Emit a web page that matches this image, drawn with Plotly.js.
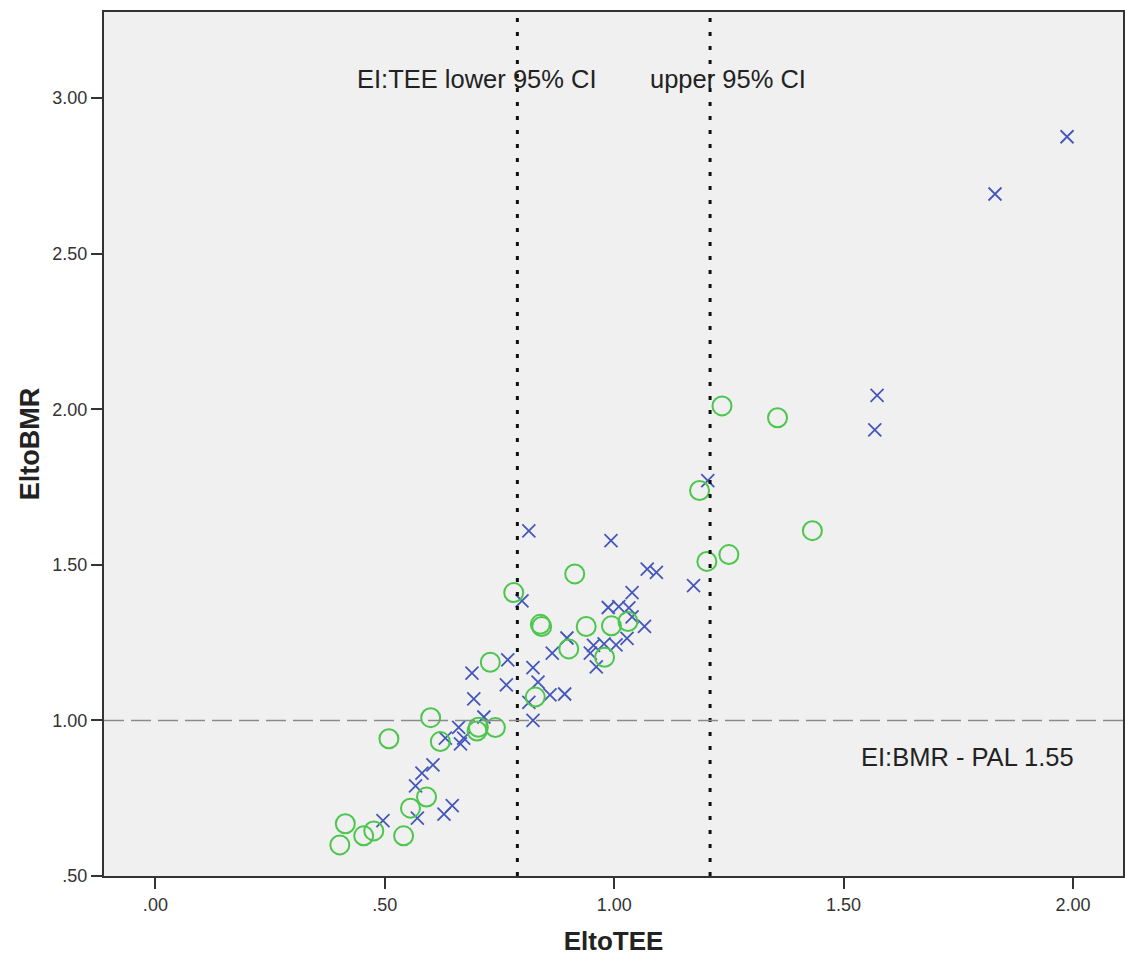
<!DOCTYPE html>
<html>
<head>
<meta charset="utf-8">
<script src="https://cdn.plot.ly/plotly-3.0.1.min.js"></script>
<style>html,body{margin:0;padding:0;background:#fff;}#chart{width:1125px;height:956px;}</style>
</head>
<body>
<div id="chart"></div>
<script>
// Series 1 (blue crosses)
const blueX = [1.987,1.830,1.573,1.568,1.204,0.814,0.993,1.072,1.092,1.173,1.039,0.799,0.987,1.010,1.032,1.039,1.066,0.897,0.955,0.978,1.004,1.028,0.948,0.961,0.865,0.823,0.768,0.690,0.765,0.834,0.860,0.892,0.814,0.694,0.716,0.823,0.661,0.672,0.665,0.632,0.605,0.581,0.567,0.571,0.647,0.629,0.496];
const blueY = [2.876,2.692,2.045,1.934,1.771,1.609,1.578,1.486,1.476,1.433,1.411,1.384,1.363,1.366,1.362,1.333,1.302,1.265,1.241,1.246,1.243,1.264,1.216,1.172,1.216,1.170,1.195,1.152,1.114,1.123,1.082,1.085,1.058,1.069,1.011,1.000,0.978,0.943,0.925,0.943,0.857,0.831,0.790,0.686,0.726,0.699,0.678];
// Series 2 (green circles)
const greenX = [1.235,1.356,1.186,1.432,1.250,1.202,0.914,0.781,0.839,0.842,0.939,0.994,1.030,0.901,0.979,0.730,0.828,0.600,0.704,0.701,0.741,0.509,0.621,0.591,0.556,0.414,0.476,0.454,0.541,0.402];
const greenY = [2.011,1.973,1.739,1.610,1.533,1.511,1.471,1.411,1.309,1.302,1.302,1.304,1.318,1.230,1.203,1.187,1.075,1.009,0.978,0.966,0.977,0.941,0.932,0.754,0.718,0.668,0.645,0.629,0.629,0.600];
// Reference lines
const ciLower = 0.789;
const ciUpper = 1.209;
const palRef = 1.0;
// Ticks
const xTickVals = [0, 0.5, 1.0, 1.5, 2.0];
const xTickText = [".00", ".50", "1.00", "1.50", "2.00"];
const yTickVals = [0.5, 1.0, 1.5, 2.0, 2.5, 3.0];
const yTickText = [".50", "1.00", "1.50", "2.00", "2.50", "3.00"];

const font = "Liberation Sans, Arial, sans-serif";

const traces = [
  {x: blueX, y: blueY, type: 'scatter', mode: 'markers', name: 'A',
   marker: {symbol: 'x-thin-open', size: 13, line: {color: '#4657bb', width: 1.8}, color: '#4657bb'}},
  {x: greenX, y: greenY, type: 'scatter', mode: 'markers', name: 'B',
   marker: {symbol: 'circle-open', size: 19, line: {color: '#4cc64c', width: 2}, color: '#4cc64c'}}
];

const layout = {
  width: 1125, height: 956,
  margin: {l: 104, r: 2, t: 12, b: 80},
  paper_bgcolor: '#ffffff',
  plot_bgcolor: '#f0f0f0',
  showlegend: false,
  font: {family: font, color: '#222'},
  xaxis: {
    range: [-0.112, 2.109],
    tickvals: xTickVals, ticktext: xTickText,
    ticks: 'outside', ticklen: 11, tickwidth: 2, tickcolor: '#333',
    showline: true, linecolor: '#333', linewidth: 2, mirror: true,
    showgrid: false, zeroline: false,
    tickfont: {family: font, size: 18, color: '#333'},
    title: {text: '<b>EltoTEE</b>', font: {family: font, size: 26, color: '#222'}, standoff: 19}
  },
  yaxis: {
    range: [0.5, 3.277],
    tickvals: yTickVals, ticktext: yTickText,
    ticks: 'outside', ticklen: 11, tickwidth: 2, tickcolor: '#333',
    showline: true, linecolor: '#333', linewidth: 2, mirror: true,
    showgrid: false, zeroline: false,
    tickfont: {family: font, size: 18, color: '#333'},
    title: {text: '<b>EltoBMR</b>', font: {family: font, size: 27, color: '#222'}, standoff: 5}
  },
  shapes: [
    {type: 'line', xref: 'x', yref: 'paper', x0: ciLower, x1: ciLower, y0: 0, y1: 1,
     line: {color: '#111', width: 3, dash: '4px,10px'}},
    {type: 'line', xref: 'x', yref: 'paper', x0: ciUpper, x1: ciUpper, y0: 0, y1: 1,
     line: {color: '#111', width: 3, dash: '4px,10px'}},
    {type: 'line', xref: 'paper', yref: 'y', x0: 0, x1: 1, y0: palRef, y1: palRef,
     line: {color: '#8a8a8a', width: 1.6, dash: '20px,7px'}}
  ],
  annotations: [
    {x: 0.700, y: 3.062, xref: 'x', yref: 'y', text: 'EI:TEE lower 95% CI', showarrow: false,
     font: {family: font, size: 25.5, color: '#222'}, xanchor: 'center', yanchor: 'middle'},
    {x: 1.249, y: 3.062, xref: 'x', yref: 'y', text: 'upper 95% CI', showarrow: false,
     font: {family: font, size: 25.5, color: '#222'}, xanchor: 'center', yanchor: 'middle'},
    {x: 1.770, y: 0.883, xref: 'x', yref: 'y', text: 'EI:BMR - PAL 1.55', showarrow: false,
     font: {family: font, size: 25.5, color: '#222'}, xanchor: 'center', yanchor: 'middle'}
  ]
};

Plotly.newPlot('chart', traces, layout, {displayModeBar: false, staticPlot: true});
</script>
</body>
</html>
